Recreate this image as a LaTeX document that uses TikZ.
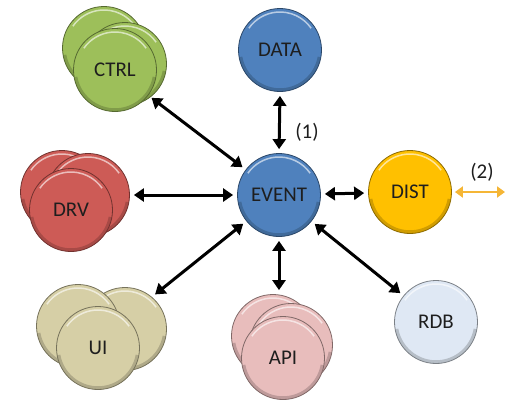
\documentclass[tikz,border=0pt]{standalone}
\usepackage{fontspec}
\setmainfont{Carlito}
\usetikzlibrary{arrows.meta}

\definecolor{evblue}{HTML}{4F81BD}
\definecolor{distyel}{HTML}{FFC000}
\definecolor{rdbcol}{HTML}{DFE8F4}
\definecolor{apicol}{HTML}{E8BDBC}
\definecolor{uicol}{HTML}{D6CFA6}
\definecolor{drvcol}{HTML}{CD5B56}
\definecolor{ctrlcol}{HTML}{9DBF5A}
\definecolor{linkyel}{HTML}{F5B636}
\definecolor{txt}{HTML}{1E1E1E}

\tikzset{
  bead/.style={circle, minimum size=83bp, inner sep=0pt,
    fill=#1, draw=#1!55!black, line width=0.8bp,
    font=\fontsize{21}{25}\selectfont, text=txt,
    path picture={
      % darker lower rim
      \draw[#1!60!black, opacity=.45, line width=3.5bp]
        (path picture bounding box.center) ++(190:40bp)
        arc[start angle=190, end angle=350, radius=40bp];
      % light upper rim
      \draw[white, opacity=.6, line width=1.5bp]
        (path picture bounding box.center) ++(35:38bp)
        arc[start angle=35, end angle=145, radius=38bp];
    }},
  link/.style={line width=3bp, draw=black,
    {Triangle[length=10bp,width=13bp]}-{Triangle[length=10bp,width=13bp]},
    shorten <=4bp, shorten >=4bp},
  ylink/.style={line width=2.8bp, draw=linkyel,
    {Triangle[length=8bp,width=11bp]}-{Triangle[length=8bp,width=11bp]}},
  tag/.style={font=\fontsize{21}{25}\selectfont, text=txt}
}

\begin{document}
\begin{tikzpicture}[x=1bp, y=-1bp]
\useasboundingbox (0,0) rectangle (505,399);

% single circles
\node[bead=evblue] (data) at (280,50) {DATA};
\node[bead=evblue] (ev) at (279,195) {EVENT};
\node[bead=distyel] (dist) at (410,192) {DIST};
\node[bead=rdbcol] (rdb) at (436,322) {RDB};

% CTRL stack
\node[bead=ctrlcol] (ctrlB1) at (104,48) {};
\node[bead=ctrlcol] (ctrlB2) at (125,64) {};
\node[bead=ctrlcol] (ctrl) at (115,70) {CTRL};

% DRV stack
\node[bead=drvcol] (drvB1) at (62,192) {};
\node[bead=drvcol] (drvB2) at (88,195) {};
\node[bead=drvcol] (drv) at (71,210) {DRV};

% UI stack
\node[bead=uicol] (uiB2) at (125,329) {};
\node[bead=uicol] (uiB1) at (78,326) {};
\node[bead=uicol] (ui) at (98,348) {UI};

% API stack
\node[bead=apicol] (apiB1) at (273,336) {};
\node[bead=apicol] (apiB2) at (291,345) {};
\node[bead=apicol] (api) at (283,358) {API};

% links to the event hub
\draw[link] (data.south) -- (ev.north);
\draw[link] (ctrl) -- (ev);
\draw[link] (drvB2) -- (ev);
\draw[link] (ev) -- (uiB2.50);
\draw[link] (ev.south) -- (ev.south |- apiB1.north);
\draw[link] (ev) -- (rdb);
\draw[link] (ev) -- (dist);

% outgoing link of DIST
\coordinate (out) at (505,192);
\draw[ylink, shorten <=3bp] (dist.east) -- (out);

% labels
\node[tag] (l1) at (307,132) {(1)};
\node[tag] (l2) at (482,172) {(2)};
\end{tikzpicture}
\end{document}
